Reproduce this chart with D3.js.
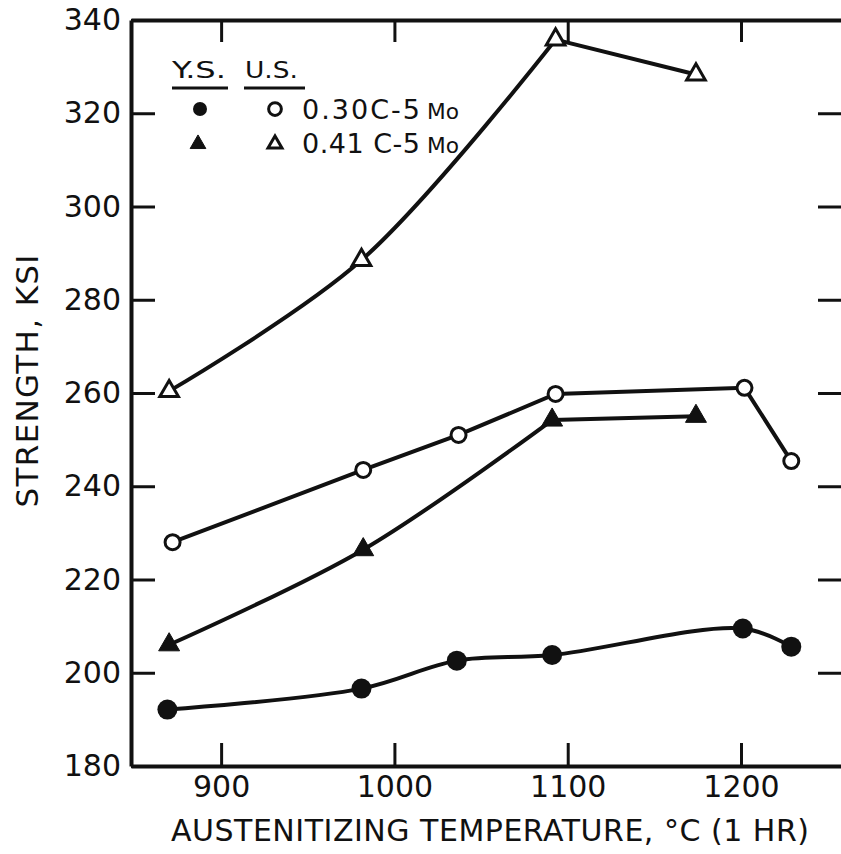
<!DOCTYPE html>
<html>
<head>
<meta charset="utf-8">
<script src="https://cdn.jsdelivr.net/npm/d3@7"></script>
<style>
  body { margin: 0; background: #fff; }
  svg { display: block; }
  text { font-family: 'DejaVu Sans', sans-serif; fill: #111; }
</style>
</head>
<body>
<div id="chart"></div>
<script>
// austenitizing temperature (deg C) and strength (ksi)
var ys030Temp = [869, 981, 1036, 1091, 1201, 1229]
var ys030Val = [192.1, 196.6, 202.6, 203.8, 209.5, 205.6]
var us030Temp = [872, 982, 1037, 1093, 1202, 1229]
var us030Val = [228.0, 243.5, 251.0, 259.8, 261.1, 245.4]
var ys041Temp = [870, 982, 1091, 1174]
var ys041Val = [206.0, 226.4, 254.2, 255.0]
var us041Temp = [870, 981, 1093, 1174]
var us041Val = [260.4, 288.5, 335.8, 328.3]

var xTicks = [900, 1000, 1100, 1200]
var yTicks = [180, 200, 220, 240, 260, 280, 300, 320, 340]
var legendRows = ['0.30C-5', '0.41 C-5']

var width = 841
var height = 854

var svg = d3.select('#chart').append('svg')
  .attr('width', width)
  .attr('height', height)

var x = d3.scaleLinear()
  .domain([848, 1260])
  .range([131, 845])

var y = d3.scaleLinear()
  .domain([180, 340])
  .range([766, 20])

function zip (ts, vs) {
  return ts.map(function (t, i) { return [t, vs[i]] })
}

// bend: points up to this index are drawn smooth, the rest straight
var series = [
  { pts: zip(ys030Temp, ys030Val), bend: 5, shape: 'circle', filled: true },
  { pts: zip(us030Temp, us030Val), bend: 0, shape: 'circle', filled: false },
  { pts: zip(ys041Temp, ys041Val), bend: 2, shape: 'triangle', filled: true },
  { pts: zip(us041Temp, us041Val), bend: 2, shape: 'triangle', filled: false }
]

// axes, ticks pointing inward
function styleAxis (g) {
  g.select('.domain').attr('stroke', '#111').attr('stroke-width', 4)
  g.selectAll('.tick line').attr('stroke', '#111').attr('stroke-width', 3)
  g.selectAll('.tick text')
    .style('font-family', 'DejaVu Sans, sans-serif')
    .attr('font-size', 30)
    .attr('fill', '#111')
}

svg.append('g')
  .attr('transform', 'translate(0,' + y(180) + ')')
  .call(d3.axisBottom(x).tickValues(xTicks).tickSize(-23).tickSizeOuter(0).tickPadding(10).tickFormat(d3.format('d')))
  .call(styleAxis)

svg.append('g')
  .attr('transform', 'translate(0,' + y(340) + ')')
  .call(d3.axisTop(x).tickValues(xTicks).tickSize(-22).tickSizeOuter(0).tickFormat(''))
  .call(styleAxis)

svg.append('g')
  .attr('transform', 'translate(' + x(848) + ',0)')
  .call(d3.axisLeft(y).tickValues(yTicks).tickSize(-24).tickSizeOuter(0).tickPadding(10).tickFormat(d3.format('d')))
  .call(styleAxis)

svg.append('g')
  .attr('transform', 'translate(' + x(1260) + ',0)')
  .call(d3.axisRight(y).tickValues(yTicks).tickSize(-27).tickSizeOuter(0).tickFormat(''))
  .call(styleAxis)

// axis titles
svg.append('text')
  .attr('x', 171)
  .attr('y', 841)
  .attr('font-size', 30)
  .attr('textLength', 638)
  .attr('lengthAdjust', 'spacing')
  .text('AUSTENITIZING TEMPERATURE, °C (1 HR)')

svg.append('text')
  .attr('transform', 'translate(38,381) rotate(-90)')
  .attr('text-anchor', 'middle')
  .attr('font-size', 31)
  .attr('textLength', 253)
  .attr('lengthAdjust', 'spacing')
  .text('STRENGTH, KSI')

// curves
var smooth = d3.line()
  .x(function (d) { return x(d[0]) })
  .y(function (d) { return y(d[1]) })
  .curve(d3.curveCatmullRom.alpha(0.5))

var straight = d3.line()
  .x(function (d) { return x(d[0]) })
  .y(function (d) { return y(d[1]) })

series.forEach(function (s) {
  if (s.bend > 0) {
    svg.append('path')
      .attr('d', smooth(s.pts.slice(0, s.bend + 1)))
      .attr('fill', 'none').attr('stroke', '#111').attr('stroke-width', 4)
  }
  if (s.bend < s.pts.length - 1) {
    svg.append('path')
      .attr('d', straight(s.pts.slice(s.bend)))
      .attr('fill', 'none').attr('stroke', '#111').attr('stroke-width', 4)
  }
})

function marker (g, shape, filled, cx, cy, k) {
  k = k || 1
  if (shape === 'circle') {
    g.append('circle')
      .attr('cx', cx).attr('cy', cy)
      .attr('r', (filled ? 10 : 7.5) * k)
      .attr('fill', filled ? '#111' : '#fff')
      .attr('stroke', '#111')
      .attr('stroke-width', filled ? 0 : 3)
  } else {
    g.append('path')
      .attr('transform', 'translate(' + cx + ',' + cy + ')')
      .attr('d', d3.symbol().type(d3.symbolTriangle).size((filled ? 190 : 150) * k * k)())
      .attr('fill', filled ? '#111' : '#fff')
      .attr('stroke', '#111')
      .attr('stroke-width', filled ? 1 : 3)
      .attr('stroke-linejoin', 'miter')
  }
}

series.forEach(function (s) {
  s.pts.forEach(function (p) {
    marker(svg, s.shape, s.filled, x(p[0]), y(p[1]))
  })
})

// legend
var legend = svg.append('g')

legend.append('text').attr('x', 172).attr('y', 78).attr('font-size', 23)
  .attr('textLength', 54).attr('lengthAdjust', 'spacingAndGlyphs').text('Y.S.')
legend.append('text').attr('x', 245).attr('y', 78).attr('font-size', 23)
  .attr('textLength', 53).attr('lengthAdjust', 'spacingAndGlyphs').text('U.S.')
legend.append('line').attr('x1', 172).attr('x2', 228).attr('y1', 88).attr('y2', 88)
  .attr('stroke', '#111').attr('stroke-width', 3)
legend.append('line').attr('x1', 244).attr('x2', 305).attr('y1', 88).attr('y2', 88)
  .attr('stroke', '#111').attr('stroke-width', 3)

marker(legend, 'circle', true, 200, 109, 0.7)
marker(legend, 'circle', false, 275, 109, 0.85)
marker(legend, 'triangle', true, 198, 144, 0.75)
marker(legend, 'triangle', false, 275, 144, 0.75)

legendRows.forEach(function (label, i) {
  legend.append('text')
    .attr('x', 302)
    .attr('y', 119 + i * 34)
    .attr('font-size', 27)
    .attr('textLength', 118)
    .attr('lengthAdjust', 'spacing')
    .text(label)
  legend.append('text')
    .attr('x', 427)
    .attr('y', 119 + i * 34)
    .attr('font-size', 21)
    .attr('textLength', 32)
    .attr('lengthAdjust', 'spacingAndGlyphs')
    .text('Mo')
})
</script>
</body>
</html>
